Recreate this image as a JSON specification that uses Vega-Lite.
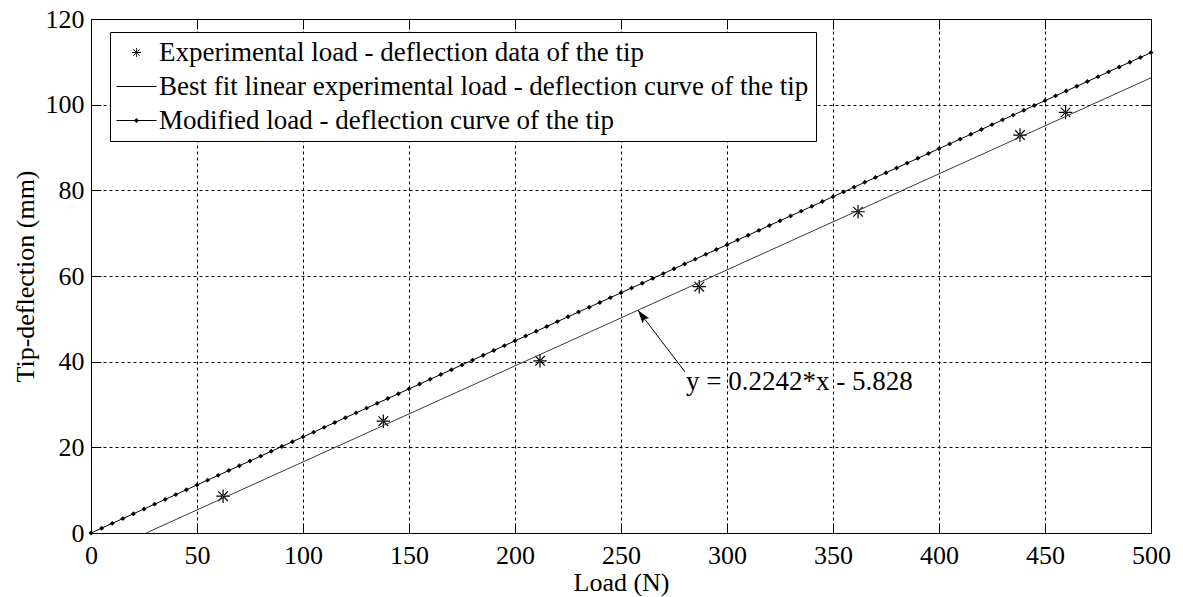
{
  "$schema": "https://vega.github.io/schema/vega-lite/v6.json",
  "width": 1060,
  "height": 514,
  "autosize": {"type": "none"},
  "padding": {"left": 91, "top": 19, "right": 32, "bottom": 64},
  "background": "white",
  "datasets": {
    "modified": [
      {"load": 0, "tip": 0}, {"load": 5, "tip": 1.12}, {"load": 10, "tip": 2.24}, {"load": 15, "tip": 3.36},
      {"load": 20, "tip": 4.49}, {"load": 25, "tip": 5.61}, {"load": 30, "tip": 6.73}, {"load": 35, "tip": 7.85},
      {"load": 40, "tip": 8.97}, {"load": 45, "tip": 10.09}, {"load": 50, "tip": 11.22}, {"load": 55, "tip": 12.34},
      {"load": 60, "tip": 13.46}, {"load": 65, "tip": 14.58}, {"load": 70, "tip": 15.70}, {"load": 75, "tip": 16.82},
      {"load": 80, "tip": 17.94}, {"load": 85, "tip": 19.07}, {"load": 90, "tip": 20.19}, {"load": 95, "tip": 21.31},
      {"load": 100, "tip": 22.43}, {"load": 105, "tip": 23.55}, {"load": 110, "tip": 24.67}, {"load": 115, "tip": 25.79},
      {"load": 120, "tip": 26.92}, {"load": 125, "tip": 28.04}, {"load": 130, "tip": 29.16}, {"load": 135, "tip": 30.28},
      {"load": 140, "tip": 31.40}, {"load": 145, "tip": 32.52}, {"load": 150, "tip": 33.65}, {"load": 155, "tip": 34.77},
      {"load": 160, "tip": 35.89}, {"load": 165, "tip": 37.01}, {"load": 170, "tip": 38.13}, {"load": 175, "tip": 39.25},
      {"load": 180, "tip": 40.37}, {"load": 185, "tip": 41.50}, {"load": 190, "tip": 42.62}, {"load": 195, "tip": 43.74},
      {"load": 200, "tip": 44.86}, {"load": 205, "tip": 45.98}, {"load": 210, "tip": 47.10}, {"load": 215, "tip": 48.22},
      {"load": 220, "tip": 49.35}, {"load": 225, "tip": 50.47}, {"load": 230, "tip": 51.59}, {"load": 235, "tip": 52.71},
      {"load": 240, "tip": 53.83}, {"load": 245, "tip": 54.95}, {"load": 250, "tip": 56.08}, {"load": 255, "tip": 57.20},
      {"load": 260, "tip": 58.32}, {"load": 265, "tip": 59.44}, {"load": 270, "tip": 60.56}, {"load": 275, "tip": 61.68},
      {"load": 280, "tip": 62.80}, {"load": 285, "tip": 63.93}, {"load": 290, "tip": 65.05}, {"load": 295, "tip": 66.17},
      {"load": 300, "tip": 67.29}, {"load": 305, "tip": 68.41}, {"load": 310, "tip": 69.53}, {"load": 315, "tip": 70.65},
      {"load": 320, "tip": 71.78}, {"load": 325, "tip": 72.90}, {"load": 330, "tip": 74.02}, {"load": 335, "tip": 75.14},
      {"load": 340, "tip": 76.26}, {"load": 345, "tip": 77.38}, {"load": 350, "tip": 78.51}, {"load": 355, "tip": 79.63},
      {"load": 360, "tip": 80.75}, {"load": 365, "tip": 81.87}, {"load": 370, "tip": 82.99}, {"load": 375, "tip": 84.11},
      {"load": 380, "tip": 85.23}, {"load": 385, "tip": 86.36}, {"load": 390, "tip": 87.48}, {"load": 395, "tip": 88.60},
      {"load": 400, "tip": 89.72}, {"load": 405, "tip": 90.84}, {"load": 410, "tip": 91.96}, {"load": 415, "tip": 93.08},
      {"load": 420, "tip": 94.21}, {"load": 425, "tip": 95.33}, {"load": 430, "tip": 96.45}, {"load": 435, "tip": 97.57},
      {"load": 440, "tip": 98.69}, {"load": 445, "tip": 99.81}, {"load": 450, "tip": 100.94}, {"load": 455, "tip": 102.06},
      {"load": 460, "tip": 103.18}, {"load": 465, "tip": 104.30}, {"load": 470, "tip": 105.42}, {"load": 475, "tip": 106.54},
      {"load": 480, "tip": 107.66}, {"load": 485, "tip": 108.79}, {"load": 490, "tip": 109.91}, {"load": 495, "tip": 111.03},
      {"load": 500, "tip": 112.15}
    ],
    "experimental": [
      {"load": 62.3, "tip": 8.6, "series": "Experimental load - deflection data of the tip"},
      {"load": 137.9, "tip": 26.1, "series": "Experimental load - deflection data of the tip"},
      {"load": 211.8, "tip": 40.2, "series": "Experimental load - deflection data of the tip"},
      {"load": 286.9, "tip": 57.5, "series": "Experimental load - deflection data of the tip"},
      {"load": 361.8, "tip": 75.0, "series": "Experimental load - deflection data of the tip"},
      {"load": 438.2, "tip": 92.9, "series": "Experimental load - deflection data of the tip"},
      {"load": 459.7, "tip": 98.2, "series": "Experimental load - deflection data of the tip"}
    ],
    "bestfit": [
      {"load": 25.99, "tip": 0},
      {"load": 500, "tip": 106.27}
    ],
    "arrow": [
      {"load": 280.2, "tip": 37.6},
      {"load": 258.0, "tip": 52.0}
    ],
    "arrowhead": [
      {"load": 258.0, "tip": 52.0}
    ],
    "equation": [
      {"load": 280.7, "tip": 33.4, "label": "y = 0.2242*x - 5.828"}
    ]
  },
  "config": {
    "view": {"stroke": "black", "strokeWidth": 1},
    "font": "Liberation Serif, serif",
    "text": {"font": "Liberation Serif, serif"},
    "legend": {"labelFont": "Liberation Serif, serif", "titleFont": "Liberation Serif, serif"},
    "axis": {
      "domainColor": "black",
      "domainWidth": 1,
      "tickColor": "black",
      "tickWidth": 1,
      "tickSize": -10,
      "labelFont": "Liberation Serif, serif",
      "labelFontSize": 26,
      "labelColor": "black",
      "titleFont": "Liberation Serif, serif",
      "titleFontSize": 26,
      "titleFontWeight": "normal",
      "titleColor": "black",
      "gridColor": "black",
      "gridWidth": 1,
      "gridOpacity": 1,
      "gridDash": [3, 3]
    }
  },
  "resolve": {"axis": {"x": "independent", "y": "independent"}},
  "layer": [
    {
      "encoding": {
        "x": {
          "field": "load", "type": "quantitative",
          "scale": {"domain": [0, 500], "nice": false, "zero": false},
          "axis": {
            "title": "Load (N)",
            "values": [0, 50, 100, 150, 200, 250, 300, 350, 400, 450, 500],
            "grid": true, "ticks": true, "tickSize": -10,
            "labelPadding": 19, "titlePadding": 1, "labelFlush": false
          }
        },
        "y": {
          "field": "tip", "type": "quantitative",
          "scale": {"domain": [0, 120], "nice": false, "zero": false},
          "axis": {
            "title": "Tip-deflection (mm)",
            "values": [0, 20, 40, 60, 80, 100, 120],
            "grid": true, "ticks": true, "tickSize": -10,
            "labelPadding": 17, "titlePadding": 7, "labelFlush": false
          }
        }
      },
      "layer": [
        {
          "data": {"name": "modified"},
          "mark": {
            "type": "line", "color": "black", "strokeWidth": 1,
            "point": {"shape": "diamond", "size": 24, "filled": true, "color": "black"}
          }
        },
        {
          "data": {"name": "experimental"},
          "mark": {
            "type": "point", "filled": true, "color": "black",
            "size": 900, "opacity": 1
          },
          "encoding": {
            "shape": {
              "field": "series", "type": "nominal",
              "scale": {
                "domain": [
                  "Experimental load - deflection data of the tip",
                  "Best fit linear experimental load - deflection curve of the tip",
                  "Modified load - deflection curve of the tip"
                ],
                "range": [
                  "M-0.04,-0.45H0.04V0.45H-0.04ZM-0.45,-0.04H0.45V0.04H-0.45ZM-0.292,-0.348L0.348,0.292L0.292,0.348L-0.348,-0.292ZM-0.292,0.348L0.348,-0.292L0.292,-0.348L-0.348,0.292Z",
                  "M-2,-0.05H2V0.05H-2Z",
                  "M-2,-0.05H2V0.05H-2ZM-0.25,0L0,-0.25L0.25,0L0,0.25Z"
                ]
              },
              "legend": {
                "title": null,
                "orient": "none",
                "legendX": 19,
                "legendY": 13,
                "padding": 7,
                "strokeColor": "black",
                "fillColor": "white",
                "symbolSize": 400,
                "symbolOffset": 6,
                "symbolFillColor": "black",
                "symbolOpacity": 1,
                "labelFont": "Liberation Serif, serif",
                "labelFontSize": 27,
                "labelColor": "black",
                "labelLimit": 0,
                "labelOffset": 9,
                "rowPadding": 6,
                "encode": {
                  "symbols": {
                    "update": {
                      "fill": {"value": "black"},
                      "fillOpacity": {"value": 1},
                      "opacity": {"value": 1}
                    }
                  }
                }
              }
            }
          }
        },
        {
          "data": {"name": "arrow"},
          "mark": {"type": "line", "color": "black", "strokeWidth": 1}
        },
        {
          "data": {"name": "arrowhead"},
          "mark": {
            "type": "point", "shape": "M0,0L-0.38,1.2L0,1.0L0.38,1.2Z",
            "size": 470, "angle": 323, "filled": true, "color": "black", "opacity": 1
          }
        },
        {
          "data": {"name": "equation"},
          "mark": {
            "type": "text", "align": "left", "baseline": "alphabetic",
            "font": "Liberation Serif, serif", "fontSize": 27, "color": "black"
          },
          "encoding": {"text": {"field": "label"}}
        }
      ]
    },
    {
      "data": {"name": "bestfit"},
      "mark": {"type": "line", "color": "#3a3a3a", "strokeWidth": 1},
      "encoding": {
        "x": {
          "field": "load", "type": "quantitative",
          "axis": {
            "orient": "top", "title": null, "labels": false, "grid": false,
            "ticks": true, "tickSize": -10, "domain": true,
            "values": [0, 50, 100, 150, 200, 250, 300, 350, 400, 450, 500]
          }
        },
        "y": {
          "field": "tip", "type": "quantitative",
          "axis": {
            "orient": "right", "title": null, "labels": false, "grid": false,
            "ticks": true, "tickSize": -10, "domain": true,
            "values": [0, 20, 40, 60, 80, 100, 120]
          }
        }
      }
    }
  ]
}
